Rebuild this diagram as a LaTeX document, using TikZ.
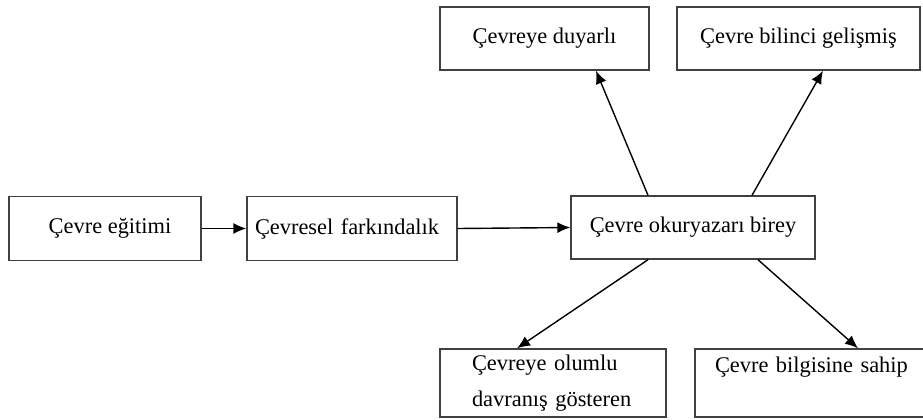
\documentclass[tikz,border=0pt]{standalone}
\usepackage{fontspec}
\setmainfont{Liberation Serif}
\usetikzlibrary{arrows.meta}
\begin{document}
\begin{tikzpicture}[x=0.5pt,y=-0.5pt,
  box/.style={draw=black!75, line width=0.7pt, rectangle, inner sep=0pt, font=\fontsize{11.2}{19.5}\selectfont},
  conn/.style={draw=black, line width=0.7pt, -{Latex[length=6.5pt,width=5.5pt]}}]
\useasboundingbox (0,0) rectangle (923,419);
\clip (0,0) rectangle (923,419);
\node[box, minimum width=96pt, minimum height=32pt] (b1) at (105,228.5) {\hspace*{5pt}Çevre eğitimi};
\node[box, minimum width=105pt, minimum height=32pt, inner xsep=4pt, text width=97pt, align=left] (b2) at (352,228.5) {Çevresel farkındalık};
\node[box, minimum width=122pt, minimum height=31.5pt] (b3) at (693,227.5) {Çevre okuryazarı birey};
\node[box, minimum width=104.5pt, minimum height=31.5pt] (tA) at (544.5,38.5) {Çevreye duyarlı};
\node[box, minimum width=121.5pt, minimum height=31.5pt] (tB) at (798.5,38.5) {Çevre bilinci gelişmiş};
\node[box, minimum width=113pt, minimum height=34pt, inner xsep=16pt, text width=81pt, align=left] (bC) at (553,383) {\raisebox{-1.5pt}{Çevreye olumlu}\\davranış gösteren};
\node[box, minimum width=122.5pt, minimum height=34pt, inner xsep=10pt, text width=102.5pt, align=left] (bD) at (817.5,383) {\raisebox{-1.5pt}{Çevre bilgisine sahip}\\\mbox{}};
\draw[conn] (b1.east) -- (b2.west);
\draw[conn] (b2.east) -- (b3.west);
\draw[conn] ([xshift=-22.5pt]b3.north) -- ([xshift=25.75pt]tA.south);
\draw[conn] ([xshift=29.5pt]b3.north) -- ([xshift=12.25pt]tB.south);
\draw[conn] ([xshift=-22.5pt]b3.south) -- ([xshift=-18pt]bC.north);
\draw[conn] ([xshift=32.5pt]b3.south) -- ([xshift=20.25pt]bD.north);
\end{tikzpicture}
\end{document}
